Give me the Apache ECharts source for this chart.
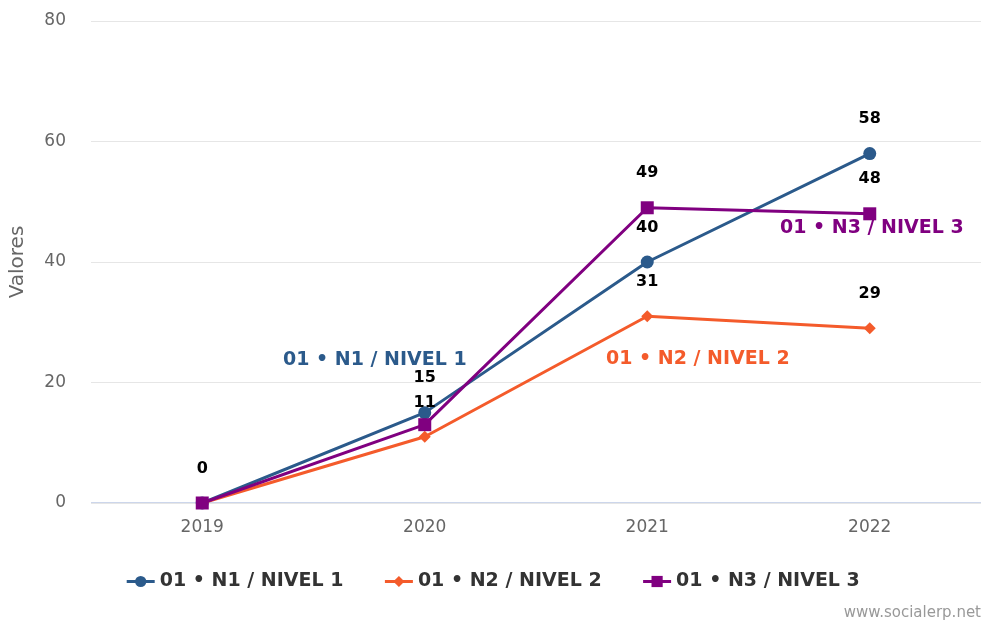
<!DOCTYPE html>
<html>
<head>
<meta charset="utf-8">
<style>
  html, body { margin: 0; padding: 0; background: #fff; }
  #chart { width: 985px; height: 623px; }
</style>
<script src="https://cdn.jsdelivr.net/npm/echarts@6/dist/echarts.min.js"></script>
</head>
<body>
<div id="chart"></div>
<script>
// datos
const years = ['2019', '2020', '2021', '2022'];
const names = ['01 • N1 / NIVEL 1', '01 • N2 / NIVEL 2', '01 • N3 / NIVEL 3'];
const nivel1 = [0, 15, 40, 58];
const nivel2 = [0, 11, 31, 29];
const nivel3 = [0, 13, 49, 48];
// etiquetas que se ocultan por solaparse (índice del año)
const hidden1 = [];
const hidden2 = [0];
const hidden3 = [0, 1];

const colors = ['#2b5a8b', '#f45b2b', '#800080'];
const symbols = ['circle', 'diamond', 'rect'];
const sizes = [13, 12, 13];
const font = 'DejaVu Sans';

const chart = echarts.init(document.getElementById('chart'));

function buildSeries(i, values, hidden) {
    return {
        name: names[i],
        type: 'line',
        data: values.map((v, k) => hidden.includes(k) ? { value: v, label: { show: false } } : v),
        symbol: symbols[i],
        symbolSize: sizes[i],
        showAllSymbol: true,
        color: colors[i],
        lineStyle: { width: 3, color: colors[i] },
        itemStyle: { color: colors[i] },
        label: {
            show: true,
            position: 'top',
            distance: 20,
            color: '#000',
            fontFamily: font,
            fontWeight: 'bold',
            fontSize: 16
        },
        emphasis: { disabled: true },
        z: 3 + i
    };
}

const option = {
    animation: false,
    grid: { left: 91, right: 4, top: 21, bottom: 120, containLabel: false, outerBoundsMode: 'none' },
    legend: {
        bottom: 27,
        left: 'center',
        itemWidth: 28,
        itemHeight: 14,
        itemGap: 40,
        lineStyle: { width: 3 },
        textStyle: { fontFamily: font, fontSize: 19, fontWeight: 'bold', color: '#333' },
        data: names
    },
    xAxis: {
        type: 'category',
        data: years,
        boundaryGap: true,
        axisLine: { show: false },
        axisTick: { show: false },
        axisLabel: { fontFamily: font, fontSize: 17, color: '#666', margin: 16 }
    },
    yAxis: {
        type: 'value',
        min: 0,
        max: 80,
        interval: 20,
        name: 'Valores',
        nameLocation: 'middle',
        nameGap: 63,
        nameTextStyle: { fontFamily: font, fontSize: 20, color: '#666' },
        axisLabel: { fontFamily: font, fontSize: 17, color: '#666', margin: 25 },
        splitLine: { lineStyle: { color: '#e6e6e6', width: 1 } }
    },
    series: [
        buildSeries(0, nivel1, hidden1),
        buildSeries(1, nivel2, hidden2),
        buildSeries(2, nivel3, hidden3)
    ],
    graphic: [
        // línea base del eje en 0
        { type: 'rect', left: 91, top: 502, shape: { width: 890, height: 1 }, style: { fill: '#ccd6eb' }, z: 1 },
        { type: 'text', left: 283, top: 351, style: { text: names[0], fill: colors[0], font: 'bold 19px ' + font } },
        { type: 'text', left: 606, top: 350, style: { text: names[1], fill: colors[1], font: 'bold 19px ' + font } },
        { type: 'text', left: 780, top: 219, style: { text: names[2], fill: colors[2], font: 'bold 19px ' + font } },
        { type: 'text', right: 4, top: 606, style: { text: 'www.socialerp.net', fill: '#999', font: '15px ' + font } }
    ]
};

chart.setOption(option);
</script>
</body>
</html>
